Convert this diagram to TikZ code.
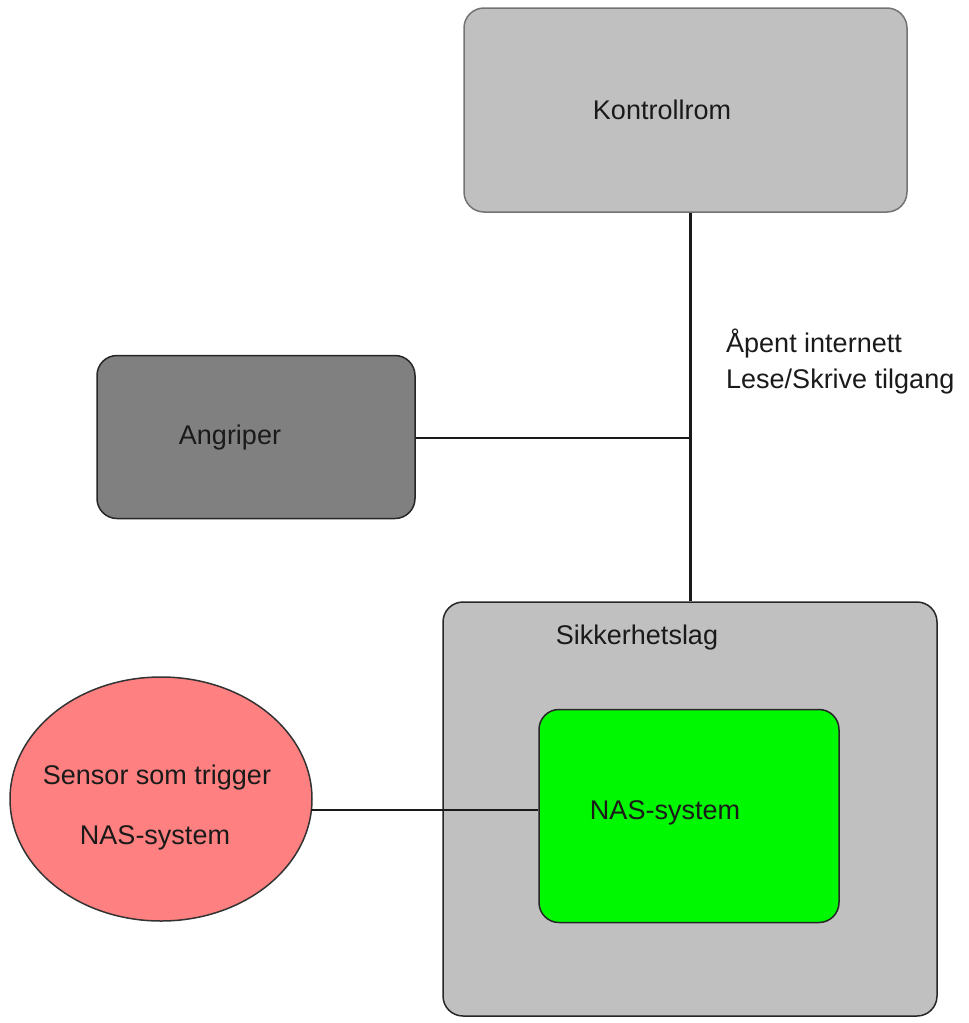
\documentclass[tikz,border=0pt]{standalone}
\usepackage{fontspec}
\setmainfont{Liberation Sans}
\usetikzlibrary{shapes.geometric}
\definecolor{lightgrey}{HTML}{C0C0C0}
\definecolor{darkgrey}{HTML}{808080}
\definecolor{nasgreen}{HTML}{00F800}
\definecolor{salmon}{HTML}{FF8080}
\definecolor{txt}{HTML}{1A1A1A}
\tikzset{
  box/.style={draw=black!85, line width=1.5pt, rounded corners=20pt, inner sep=0pt},
  lbl/.style={font=\fontsize{27}{30}\selectfont, text=txt, inner sep=0pt},
  wire/.style={draw=black!90, line width=2pt},
}
\begin{document}
\begin{tikzpicture}[x=1pt,y=-1pt]
\useasboundingbox (0,0) rectangle (969,1023);
% boxes
\node[box, draw=black!55, fill=lightgrey, minimum width=443pt, minimum height=204pt] (kontroll) at (685.5,110) {};
\node[lbl] (kontrolltxt) at (662,110) {Kontrollrom};
\node[box, fill=darkgrey, minimum width=318pt, minimum height=163pt] (angriper) at (256,437) {};
\node[lbl] (angripertxt) at (230,438) {Angriper};
\node[box, fill=lightgrey, minimum width=494pt, minimum height=414pt] (sikker) at (690,809) {};
\node[lbl] (sikkertxt) at (637,638) {Sikkerhetslag};
\node[box, fill=nasgreen, minimum width=300pt, minimum height=213pt] (nas) at (689,816) {};
\node[lbl] (nastxt) at (665,813) {NAS-system};
\node[draw=black!80, line width=1.5pt, fill=salmon, ellipse, minimum width=302pt, minimum height=244pt, inner sep=0pt] (sensor) at (161,799) {};
\node[lbl] (sensortxt1) at (157,778) {Sensor som trigger};
\node[lbl] (sensortxt2) at (155,838) {NAS-system};
% annotation
\node[lbl, anchor=west] (aapent) at (726,344) {Åpent internett};
\node[lbl, anchor=west] (lese) at (726,382) {Lese/Skrive tilgang};
% connectors
\coordinate (j) at (690,438);
\coordinate (sj) at (311,810);
\draw[wire, line width=3pt] (kontroll.south -| j) -- (sikker.north -| j);
\draw[wire] (angriper.east |- j) -- (j);
\draw[wire] (sj) -- (sj -| nas.west);
\end{tikzpicture}
\end{document}
